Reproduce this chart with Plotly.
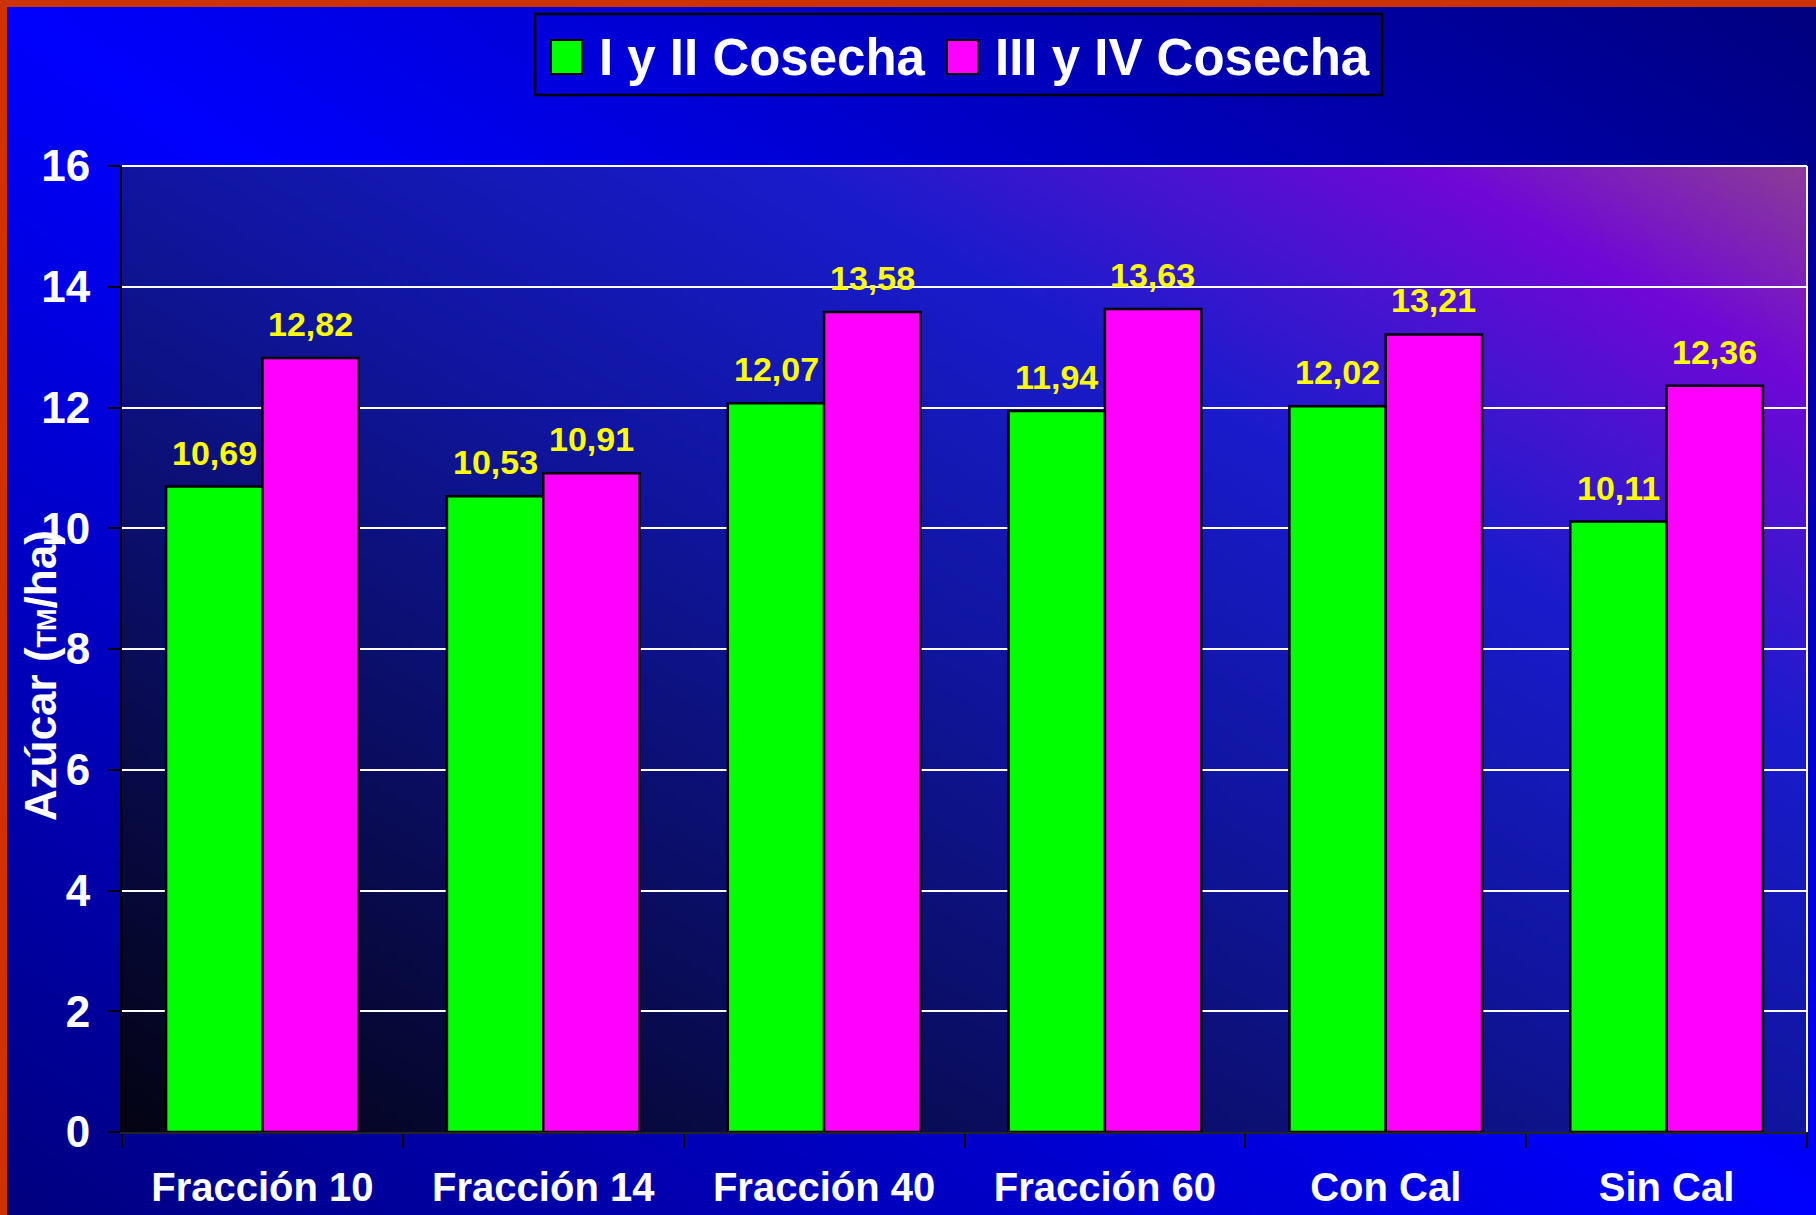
import base64
import struct
import zlib

import numpy as np
import plotly.graph_objects as go

# ---------------- data ----------------
categories = ["Fracción 10", "Fracción 14", "Fracción 40", "Fracción 60", "Con Cal", "Sin Cal"]
cosecha_1_2 = [10.69, 10.53, 12.07, 11.94, 12.02, 10.11]
cosecha_3_4 = [12.82, 10.91, 13.58, 13.63, 13.21, 12.36]
series_names = ["I y II Cosecha", "III y IV Cosecha"]
y_ticks = [0, 2, 4, 6, 8, 10, 12, 14, 16]
y_title = "Azúcar (<span style='font-size:27px'>TM</span>/ha)"

# ---------------- layout geometry (pixels) ----------------
W, H = 1816, 1215
L, R, T, B = 122, 9, 166, 83
PW, PH = W - L - R, H - T - B

GREEN = "#00FF00"
MAGENTA = "#FF00FF"
FONT = "Arial, Liberation Sans, sans-serif"


def px(xpix):
    return (xpix - L) / PW


def py(ypix):
    return (H - B - ypix) / PH


def png_data_uri(arr):
    h, w, _ = arr.shape
    raw = b"".join(b"\x00" + arr[i].astype(np.uint8).tobytes() for i in range(h))

    def chunk(tag, data):
        c = struct.pack(">I", len(data)) + tag + data
        return c + struct.pack(">I", zlib.crc32(tag + data) & 0xFFFFFFFF)

    png = b"\x89PNG\r\n\x1a\n"
    png += chunk(b"IHDR", struct.pack(">IIBBBBB", w, h, 8, 2, 0, 0, 0))
    png += chunk(b"IDAT", zlib.compress(raw, 9))
    png += chunk(b"IEND", b"")
    return "data:image/png;base64," + base64.b64encode(png).decode()


def gradient(w, h, stops, tfunc):
    xs = np.linspace(0, 1, w)[None, :]
    ys = np.linspace(0, 1, h)[:, None]
    t = tfunc(xs, ys)
    pos = np.array([s[0] for s in stops])
    cols = np.array([s[1] for s in stops], dtype=float)
    out = np.zeros((h, w, 3))
    for c in range(3):
        out[:, :, c] = np.interp(t, pos, cols[:, c])
    return out


# page background: bright along the main diagonal, dark towards TR and BL corners
page_stops = [(0.0, (0, 0, 128)), (0.5, (0, 0, 255)), (1.0, (0, 0, 128))]
page_img = gradient(
    200, 134, page_stops, lambda x, y: np.clip((x + (1 - y)) / 2, 0, 1)
)

# plot background: black bottom-left -> blue -> purple top-right
plot_stops = [
    (0.0, (4, 4, 20)),
    (0.25, (10, 13, 90)),
    (0.5, (16, 22, 160)),
    (0.7, (26, 28, 204)),
    (0.81, (74, 20, 208)),
    (0.89, (112, 8, 216)),
    (1.0, (140, 60, 152)),
]
plot_img = gradient(200, 115, plot_stops, lambda x, y: np.clip((x + (1 - y)) / 2, 0, 1))

fig = go.Figure()
fig.add_trace(
    go.Bar(
        x=categories,
        y=cosecha_1_2,
        name=series_names[0],
        marker=dict(color=GREEN, line=dict(color="black", width=2.5)),
        showlegend=False,
    )
)
fig.add_trace(
    go.Bar(
        x=categories,
        y=cosecha_3_4,
        name=series_names[1],
        marker=dict(color=MAGENTA, line=dict(color="black", width=2.5)),
        showlegend=False,
    )
)

annotations = []
for cat, v1, v2 in zip(categories, cosecha_1_2, cosecha_3_4):
    for val, shift in ((v1, -48), (v2, 48)):
        annotations.append(
            dict(
                x=cat,
                y=val,
                xref="x",
                yref="y",
                text=f"{val:.2f}".replace(".", ","),
                showarrow=False,
                xshift=shift,
                yshift=13,
                yanchor="bottom",
                font=dict(family=FONT, size=34, color="#FFFF00", weight="bold"),
            )
        )

# y-axis title (overlapping tick labels like the original)
annotations.append(
    dict(
        x=px(40),
        y=py(676),
        xref="paper",
        yref="paper",
        text=y_title,
        textangle=-90,
        showarrow=False,
        xanchor="center",
        yanchor="middle",
        font=dict(family=FONT, size=44, color="white", weight="bold"),
    )
)

# custom legend text
legend_text_x = [597, 993]
for name, xl in zip(series_names, legend_text_x):
    annotations.append(
        dict(
            x=px(xl),
            y=py(57),
            xref="paper",
            yref="paper",
            text=name,
            showarrow=False,
            xanchor="left",
            yanchor="middle",
            font=dict(family=FONT, size=51, color="white", weight="bold"),
        )
    )

shapes = [
    # legend frame
    dict(type="rect", xref="paper", yref="paper", x0=px(535), x1=px(1382), y0=py(95), y1=py(14),
         line=dict(color="black", width=2.5), fillcolor="rgba(0,0,0,0)"),
    dict(type="rect", xref="paper", yref="paper", x0=px(551), x1=px(582), y0=py(74), y1=py(40),
         line=dict(color="black", width=2), fillcolor=GREEN),
    dict(type="rect", xref="paper", yref="paper", x0=px(947), x1=px(978), y0=py(74), y1=py(40),
         line=dict(color="black", width=2), fillcolor=MAGENTA),
    # plot frame: white top and right edges
    dict(type="line", xref="paper", yref="paper", x0=1, x1=1, y0=0, y1=1,
         line=dict(color="white", width=2)),
    dict(type="line", xref="paper", yref="paper", x0=0, x1=1, y0=1, y1=1,
         line=dict(color="white", width=2)),
]

images = [
    dict(source=png_data_uri(page_img), xref="paper", yref="paper",
         x=px(7), y=py(7), sizex=(W - 7) / PW, sizey=(H - 7) / PH,
         sizing="stretch", xanchor="left", yanchor="top", layer="below"),
    dict(source=png_data_uri(plot_img), xref="paper", yref="paper",
         x=0, y=1, sizex=1, sizey=1,
         sizing="stretch", xanchor="left", yanchor="top", layer="below"),
]

fig.update_layout(
    width=W,
    height=H,
    margin=dict(l=L, r=R, t=T, b=B, autoexpand=False),
    paper_bgcolor="#CC3300",
    plot_bgcolor="rgba(0,0,0,0)",
    barmode="group",
    bargap=0.314,
    bargroupgap=0,
    showlegend=False,
    annotations=annotations,
    shapes=shapes,
    images=images,
    xaxis=dict(
        type="category",
        tickson="boundaries",
        ticks="outside",
        ticklen=14,
        tickwidth=2,
        tickcolor="black",
        showline=True,
        linecolor="#222222",
        linewidth=2,
        showgrid=False,
        ticklabelstandoff=19,
        tickfont=dict(family=FONT, size=40, color="white", weight="bold"),
    ),
    yaxis=dict(
        range=[0, 16],
        tickvals=y_ticks,
        ticks="outside",
        ticklen=12,
        tickwidth=2,
        tickcolor="black",
        showline=True,
        linecolor="black",
        linewidth=2,
        showgrid=True,
        gridcolor="white",
        gridwidth=2,
        zeroline=False,
        ticklabelstandoff=9,
        tickfont=dict(family=FONT, size=44, color="white", weight="bold"),
    ),
)

fig.write_html(
    "out.html",
    config=dict(displayModeBar=False),
    post_script="document.body.style.margin='0';document.body.style.overflow='hidden';",
)
